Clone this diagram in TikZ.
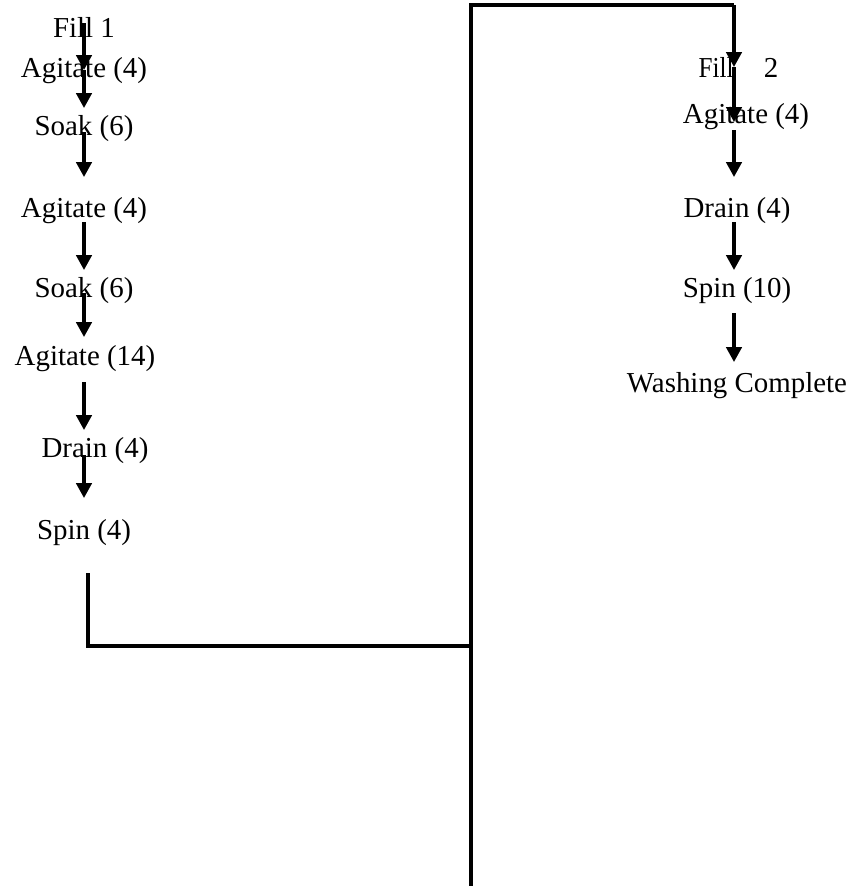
\documentclass[tikz,border=0pt]{standalone}
\usepackage{fontspec}
\setmainfont{Liberation Serif}
\usepackage{graphicx}
\usepackage{tikz}
\usetikzlibrary{arrows.meta,positioning}
\tikzset{
  stage/.style={anchor=base, inner sep=0pt, font=\fontsize{12}{14}\selectfont},
  flow/.style={-{Triangle[length=6.2pt,width=6.4pt]}, line width=1.35pt},
  link/.style={line width=1.35pt}
}

\begin{document}
\begin{tikzpicture}[x=0.415pt, y=-0.415pt]
      \useasboundingbox (0,0) rectangle (853,886);
      % First wash (left column)
      \node[stage] (fillA)  at (84,37)  {Fill 1};
      \node[stage] (agitA)  at (84,77)  {Agitate (4)};
      \node[stage] (soakA)  at (84,135) {Soak (6)};
      \node[stage] (agitB)  at (84,217) {Agitate (4)};
      \node[stage] (soakB)  at (84,297) {Soak (6)};
      \node[stage] (agitC)  at (85,365) {Agitate (14)};
      \node[stage] (drainA) at (95,457) {Drain (4)};
      \node[stage] (spinA)  at (84,539) {Spin (4)};
      % Arrows between steps
      \foreach \ys/\ye in {23/70, 70/108, 132/177, 222/270, 293/337, 382/430, 455/498}
        \draw[flow] (84,\ys) -- (84,\ye);
      % Second wash (right column)
      \node[stage] (fillB)  at (738.5,77) {\scalebox{0.87}[1]{Fill}\hspace{12.5pt}2};
      \node[stage] (agitD)  at (746,123)  {Agitate (4)};
      \node[stage] (drainB) at (737,217)  {Drain (4)};
      \node[stage] (spinB)  at (737,297)  {Spin (10)};
      \node[stage] (done)   at (737,392)  {Washing Complete};
      \foreach \ys/\ye in {67/122, 130/177, 222/270, 313/362}
        \draw[flow] (734,\ys) -- (734,\ye);
      % Link from first wash to second wash
      \coordinate (spinEnd) at (88,573);
      \coordinate (bend)    at (88,646);
      \coordinate (joint)   at (471,646);
      \coordinate (trunkLo) at (471,886);
      \coordinate (trunkHi) at (471,5);
      \coordinate (topEnd)  at (734,5);
      \draw[link] (spinEnd) -- (bend) -- (joint);
      \draw[link] (trunkLo) -- (trunkHi) -- (topEnd);
      \draw[flow] (topEnd) -- (734,67);
    \end{tikzpicture}
\end{document}
